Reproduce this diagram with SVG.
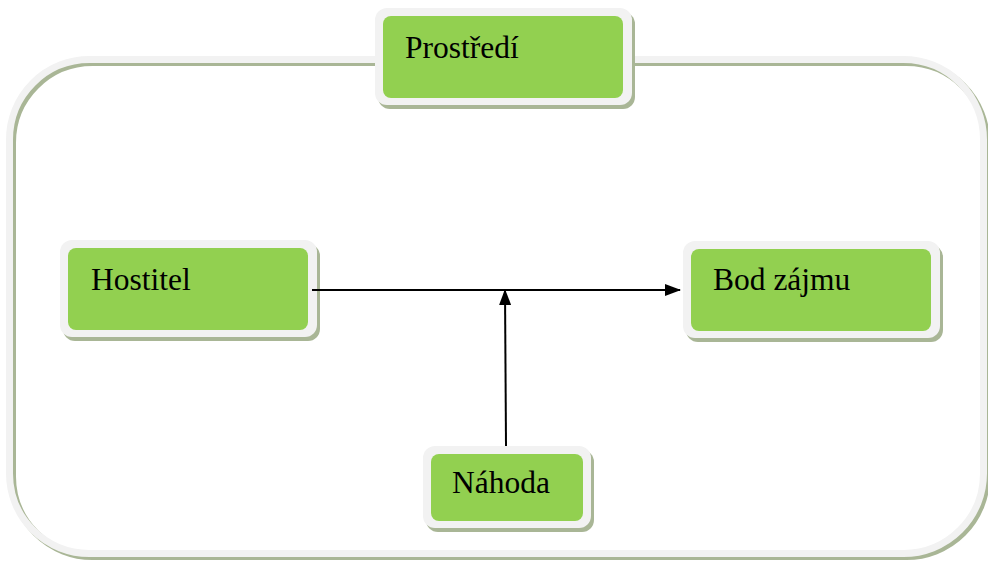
<svg xmlns="http://www.w3.org/2000/svg" width="988" height="562" viewBox="0 0 988 562">
<style>
.fshadow{fill:none;stroke:#a9b696;stroke-width:7}
.frame{fill:none;stroke:#f2f2f2;stroke-width:7}
.shadow{fill:#a9b696}
.outer{fill:#f2f2f2}
.inner{fill:#92d050}
.lbl{font-family:"Liberation Serif","Times New Roman",serif;font-size:31.5px;fill:#000}
.conn{stroke:#000;stroke-width:2;fill:none}
</style>
<defs>
<marker id="ah" markerWidth="16" markerHeight="12" refX="15" refY="6" orient="auto" markerUnits="userSpaceOnUse">
<path d="M0,0 L16,6 L0,12 Z" fill="#000"/>
</marker>
</defs>
<rect width="988" height="562" fill="#fff"/>
<g id="frame">
<rect class="fshadow" x="12.5" y="62.5" width="974" height="494" rx="80"/>
<rect class="frame" x="9.5" y="59.5" width="974" height="494" rx="80"/>
</g>
<g id="prostredi">
<rect class="shadow" x="378" y="12" width="257" height="97" rx="12"/>
<rect class="outer" x="375" y="8" width="257" height="97" rx="12"/>
<rect class="inner" x="383" y="16" width="240" height="82" rx="8"/>
<text class="lbl" x="405" y="58">Prostředí</text>
</g>
<g id="hostitel">
<rect class="shadow" x="63" y="244" width="257" height="97" rx="12"/>
<rect class="outer" x="60" y="240" width="257" height="97" rx="12"/>
<rect class="inner" x="68" y="248" width="240" height="82" rx="8"/>
<text class="lbl" x="91" y="290">Hostitel</text>
</g>
<g id="bod">
<rect class="shadow" x="686" y="245" width="257" height="97" rx="12"/>
<rect class="outer" x="683" y="241" width="257" height="97" rx="12"/>
<rect class="inner" x="691" y="249" width="240" height="82" rx="8"/>
<text class="lbl" x="713" y="290">Bod zájmu</text>
</g>
<g id="nahoda">
<rect class="shadow" x="426" y="450" width="168" height="82" rx="12"/>
<rect class="outer" x="423" y="446" width="168" height="82" rx="12"/>
<rect class="inner" x="431" y="454" width="152" height="67" rx="8"/>
<text class="lbl" x="452" y="493">Náhoda</text>
</g>
<g id="connectors">
<line class="conn" x1="312" y1="290" x2="680" y2="290" marker-end="url(#ah)"/>
<line class="conn" x1="506" y1="446" x2="505" y2="290" marker-end="url(#ah)"/>
</g>
</svg>
